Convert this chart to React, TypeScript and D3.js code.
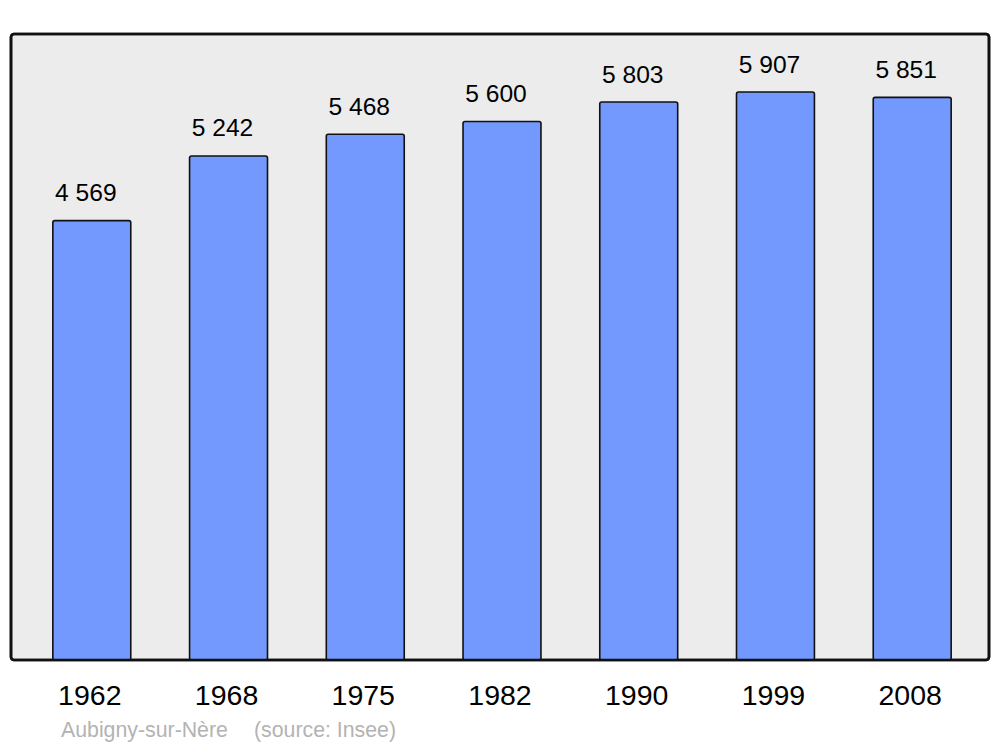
import React from "react";
import * as d3 from "d3";

const years = ["1962", "1968", "1975", "1982", "1990", "1999", "2008"];
const population = [4569, 5242, 5468, 5600, 5803, 5907, 5851];
const yDomainMax = 6500;
const townName = "Aubigny-sur-Nère";
const sourceText = "(source: Insee)";

const W = 1000;
const H = 747;
const frame = { x: 11, y: 34, w: 978, h: 626 };

const fmt = (v: number) => {
  const s = String(v);
  return s.length > 3 ? s.slice(0, s.length - 3) + " " + s.slice(-3) : s;
};

export default function App() {
  const x = d3
    .scaleBand<string>()
    .domain(years)
    .range([14, 990])
    .paddingInner(0.43)
    .paddingOuter(0.284);
  const y = d3
    .scaleLinear()
    .domain([0, yDomainMax])
    .range([frame.y + frame.h, frame.y + 1]);

  const font = "'Liberation Sans', Arial, sans-serif";

  return (
    <svg
      width={W}
      height={H}
      style={{ position: "absolute", left: 0, top: 0 }}
      fontFamily={font}
    >
      <rect x={0} y={0} width={W} height={H} fill="#ffffff" />
      <rect
        x={frame.x}
        y={frame.y}
        width={frame.w}
        height={frame.h}
        rx={3}
        fill="#ececec"
        stroke="#111111"
        strokeWidth={2.6}
      />
      {years.map((yr, i) => {
        const v = population[i];
        const bx = x(yr) as number;
        const bw = x.bandwidth();
        const top = y(v);
        return (
          <g key={yr}>
            <rect
              x={bx}
              y={top}
              width={bw}
              height={y(0) - top}
              rx={2}
              fill="#7399ff"
              stroke="#111111"
              strokeWidth={1.6}
            />
            <text
              x={bx + bw / 2 - 6}
              y={top - 19.5}
              textAnchor="middle"
              fontSize={24.6}
              fill="#000"
            >
              {fmt(v)}
            </text>
            <text
              x={bx + bw / 2 - 2}
              y={705}
              textAnchor="middle"
              fontSize={28.5}
              fill="#000"
            >
              {yr}
            </text>
          </g>
        );
      })}
      <rect
        x={frame.x}
        y={frame.y}
        width={frame.w}
        height={frame.h}
        rx={3}
        fill="none"
        stroke="#111111"
        strokeWidth={2.6}
      />
      <text x={61} y={737} fontSize={21.3} fill="#b3b3b3">
        {townName}
      </text>
      <text x={254} y={737} fontSize={21.3} fill="#b3b3b3">
        {sourceText}
      </text>
    </svg>
  );
}
